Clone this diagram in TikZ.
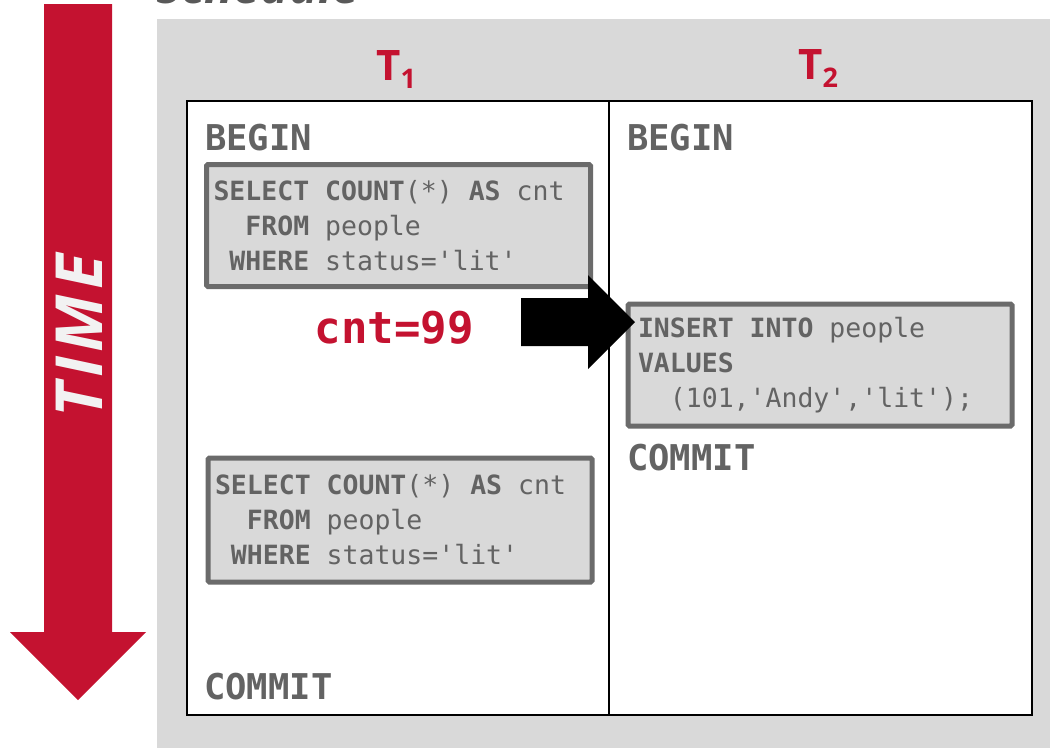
\documentclass[tikz,border=0pt]{standalone}
\usepackage{fontspec}
\setmainfont{Open Sans}
\setmonofont{DejaVu Sans Mono}
\definecolor{cmured}{HTML}{C41230}
\definecolor{bggray}{HTML}{D9D9D9}
\definecolor{txtgray}{HTML}{636363}
\definecolor{boxborder}{HTML}{6B6B6B}
\definecolor{timewhite}{HTML}{F2F2F2}
\tikzset{
  colbox/.style={draw=black, line width=2pt, fill=white, anchor=north west, inner sep=0pt, minimum height=614pt},
  codebox/.style={draw=boxborder, line width=5pt, fill=bggray, rounded corners=1.5pt, text=txtgray,
    font=\ttfamily\fontsize{26.5}{35}\selectfont, align=left, anchor=north west,
    minimum height=122pt, inner ysep=0pt},
  kw/.style={text=txtgray, font=\ttfamily\bfseries\fontsize{35.5}{35.5}\selectfont, anchor=base west, inner sep=0pt},
  tlabel/.style={text=cmured, font=\bfseries\fontsize{42}{42}\selectfont, anchor=base west, inner sep=0pt},
}
\newcommand\subdn[1]{\raisebox{-8pt}{\fontsize{27}{27}\selectfont #1}}
\newcommand\sk{\hphantom{x}}
\begin{document}
\begin{tikzpicture}[x=1pt,y=-1pt]
\useasboundingbox (0,0) rectangle (1050,748);
\clip (0,0) rectangle (1050,748);
% title (cut off at top)
\node[anchor=base west, inner sep=0pt, text=txtgray!90!black, font=\itshape\bfseries\fontsize{48}{48}\selectfont] (title) at (156,3) {Schedule};
% time arrow
\fill[cmured] (44,4) -- (112,4) -- (112,632) -- (146,632) -- (78,700) -- (10,632) -- (44,632) -- cycle;
\node[rotate=90, text=timewhite, font=\bfseries\itshape\fontsize{65}{65}\selectfont, inner sep=0pt] (time) at (79,336) {T\kern5pt I\kern5pt M\kern5pt E};
% schedule background
\fill[bggray] (157,19) rectangle (1050,748);
% columns
\node[colbox, minimum width=422pt] (col1) at (186,100) {};
\node[colbox, minimum width=423pt] (col2) at (608,100) {};
% transaction labels
\node[tlabel] (t1) at (376,80) {T\subdn{1}};
\node[tlabel] (t2) at (798,79) {T\subdn{2}};
% code boxes
\node[codebox, text width=370pt, inner xsep=7pt] (q1) at (204,162) {\textbf{SELECT}\sk\textbf{COUNT}(*)\sk\textbf{AS}\sk cnt\\\sk\sk\textbf{FROM}\sk people\\\sk\textbf{WHERE}\sk status='lit'};
\node[codebox, text width=370pt, inner xsep=7pt, minimum height=124pt] (q2) at (205.5,455.5) {\textbf{SELECT}\sk\textbf{COUNT}(*)\sk\textbf{AS}\sk cnt\\\sk\sk\textbf{FROM}\sk people\\\sk\textbf{WHERE}\sk status='lit'};
\node[codebox, text width=364pt, inner xsep=10pt] (q3) at (625.5,301.5) {\textbf{INSERT}\sk\textbf{INTO}\sk people\\\textbf{VALUES}\\\sk\sk(101,'Andy','lit');};
% keywords
\node[kw] (begin1) at (205,150) {BEGIN};
\node[kw] (begin2) at (627,150) {BEGIN};
\node[kw] (commit2) at (627,470) {COMMIT};
\node[kw] (commit1) at (204,699) {COMMIT};
% result
\node[anchor=base west, inner sep=0pt, text=cmured, font=\ttfamily\bfseries\fontsize{44}{44}\selectfont] (cnt) at (314.5,343) {cnt=99};
% block arrow
\fill[black] (521,298) -- (588,298) -- (588,275) -- (635,322) -- (588,369) -- (588,346) -- (521,346) -- cycle;
\end{tikzpicture}
\end{document}
